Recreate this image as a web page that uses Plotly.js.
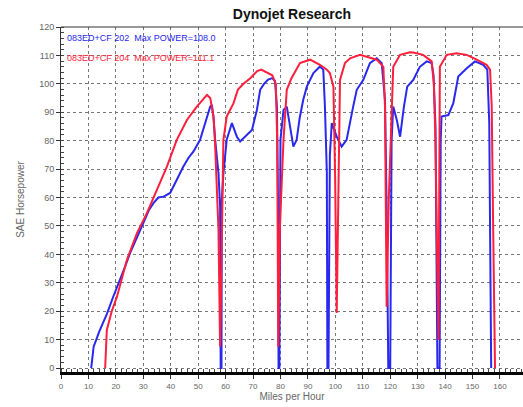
<!DOCTYPE html>
<html>
<head>
<meta charset="utf-8">
<script src="https://cdn.plot.ly/plotly-3.0.1.min.js"></script>
<style>html,body{margin:0;padding:0;background:#fff;}#chart{width:523px;height:407px;}</style>
</head>
<body>
<div id="chart"></div>
<script>
// Blue run (RUN 202)
const blueMph = [11.0,11.9,14,16.7,19,21.6,23.5,25.2,28,30,32,33.7,35.5,37.4,39.8,42,44.6,46.5,48.3,50.7,52.5,54.4,55,55.6,56.2,57.4,58,58.2,58.5,58.6,59.2,60.4,62.3,64.1,65.3,67.7,69.6,71.4,72.6,74,75.5,77,78,78.7,79.1,79.3,79.6,80,81.1,82.3,83.5,84.7,85.9,87,88.3,89.6,92,94.4,95.6,96.2,96.9,97.1,97.5,98,98.7,100.5,102.3,104.1,106.5,107.8,110.2,112.6,115.1,116.9,118.1,118.7,119.3,120,120.5,121.1,122.4,123.6,125,126.2,128.4,130.8,133.3,135.1,135.8,136.5,137.2,138,138.4,138.7,141.2,143,144.8,147.9,150.9,153.9,155.4,156.1,156.8];
const blueHp  = [0,7.5,13,19,25,31,36,40.5,47,51,55.5,58,60,60.3,61.6,66,70.9,74,76.2,80.3,86,92,92.6,88,80.3,68.5,56.8,0,0,59,68.5,80.3,86.2,81.4,79.7,82,83.8,90.8,97.9,100,101.5,102,101,92,60,0,0,80.3,90.8,92,85,77.9,80.3,88,94.4,99,103.8,106.1,105,92,68.6,0,0,75,86.2,81.4,77.9,80.3,92,97.9,101.4,107.3,109,107.3,94.4,56.8,0,0,80,92,87.3,81.4,92,99,101.4,106,107.9,107.3,103,85,0,0,80,88.5,89,93.2,102.6,105.5,107.9,106.7,105,86.2,0];
// Red run (RUN 204)
const redMph = [16.1,16.7,18.5,20.4,24,27.7,31.3,35,38.6,42.2,45.9,49.5,53.2,54.4,55.6,56.2,57.4,58,58.5,59.2,60.4,62.9,64.5,66.5,69,71.5,73,75,77,78.3,78.8,79.2,79.8,81.1,82.3,84,85.9,87.1,90.8,94.4,96.9,98,99.3,99.9,100.5,101.3,101.7,103.5,105.4,109,111.4,115.1,117.5,118.1,118.7,119.5,121.1,123.6,127.2,128.4,132,135.1,135.9,136.5,137.1,137.6,138.1,140.6,144.2,147.9,151.5,155.1,156.4,157,157.5,158.2];
const redHp  = [0,13.4,20,25.1,38,47.5,54.5,62.7,70.9,80.3,87.3,92,96.1,95,88.5,78,48.6,7.5,40,80.3,88.5,93.2,98,100,102,104.5,105,104,103,100,80,7.5,50,80.3,97.9,102,105.5,107.3,108.5,106.7,105,103.8,99,68.7,19.4,70,101.4,107.3,109,110.2,109.6,108.5,106,92,21.6,60,106,110.2,111.1,111,110.2,107.9,100,80,40,9.9,106,110.2,110.8,110.2,108.5,106.7,105,92,51,0];

const xTicks = [0,10,20,30,40,50,60,70,80,90,100,110,120,130,140,150,160];
const yTicks = [0,10,20,30,40,50,60,70,80,90,100,110,120];
const legendBlue = "083ED+CF 202  Max POWER=108.0";
const legendRed  = "083ED+CF 204  Max POWER=111.1";

const blueColor = 'rgb(40,40,240)';
const redColor = 'rgb(255,30,60)';

const traces = [
  {x: blueMph, y: blueHp, mode: 'lines', line: {color: blueColor, width: 2}, hoverinfo: 'skip'},
  {x: redMph, y: redHp, mode: 'lines', line: {color: redColor, width: 2}, hoverinfo: 'skip'}
];

const layout = {
  width: 523, height: 407,
  margin: {l: 61, r: 0, t: 27, b: 35},
  paper_bgcolor: '#fff', plot_bgcolor: '#fff',
  showlegend: false,
  font: {family: 'Liberation Sans, Arial, sans-serif', color: '#555'},
  title: {text: '<b>Dynojet Research</b>', font: {size: 14, color: '#111'}, x: 0.5, xref: 'paper', y: 0.966, yref: 'container', yanchor: 'middle', automargin: false},
  xaxis: {
    range: [0, 168.4], tickvals: xTicks, ticktext: xTicks.map(String),
    showgrid: true, gridcolor: '#777', griddash: '3px,3px', gridwidth: 1,
    zeroline: false, showline: true, linecolor: '#000', linewidth: 3,
    ticks: 'outside', ticklen: 4, tickcolor: '#333', tickfont: {size: 8, color: '#666'},
    minor: {dtick: 2, ticks: 'inside', ticklen: 3, tickcolor: '#444', showgrid: false},
    title: {text: 'Miles per Hour', font: {size: 10, color: '#666'}, standoff: 4}
  },
  yaxis: {
    range: [-1.4, 120], tickvals: yTicks, ticktext: yTicks.map(String),
    showgrid: true, gridcolor: '#777', griddash: '3px,3px', gridwidth: 1,
    zeroline: false, showline: true, linecolor: '#333', linewidth: 1,
    ticks: 'outside', ticklen: 4, tickcolor: '#333', tickfont: {size: 9, color: '#666'},
    minor: {dtick: 2, ticks: 'inside', ticklen: 3, tickcolor: '#444', showgrid: false},
    title: {text: 'SAE Horsepower', font: {size: 10, color: '#666'}, standoff: 12}
  },
  shapes: [
    {type: 'line', xref: 'paper', yref: 'paper', x0: 0, x1: 1, y0: 1, y1: 1, line: {color: '#333', width: 1}}
  ],
  annotations: [
    {xref: 'paper', yref: 'y', x: 0.008, y: 116, xanchor: 'left', yanchor: 'middle', text: legendBlue, showarrow: false, font: {size: 9, color: blueColor}},
    {xref: 'paper', yref: 'y', x: 0.008, y: 109, xanchor: 'left', yanchor: 'middle', text: legendRed, showarrow: false, font: {size: 9, color: redColor}}
  ]
};

Plotly.newPlot('chart', traces, layout, {staticPlot: true, displayModeBar: false});
</script>
</body>
</html>
